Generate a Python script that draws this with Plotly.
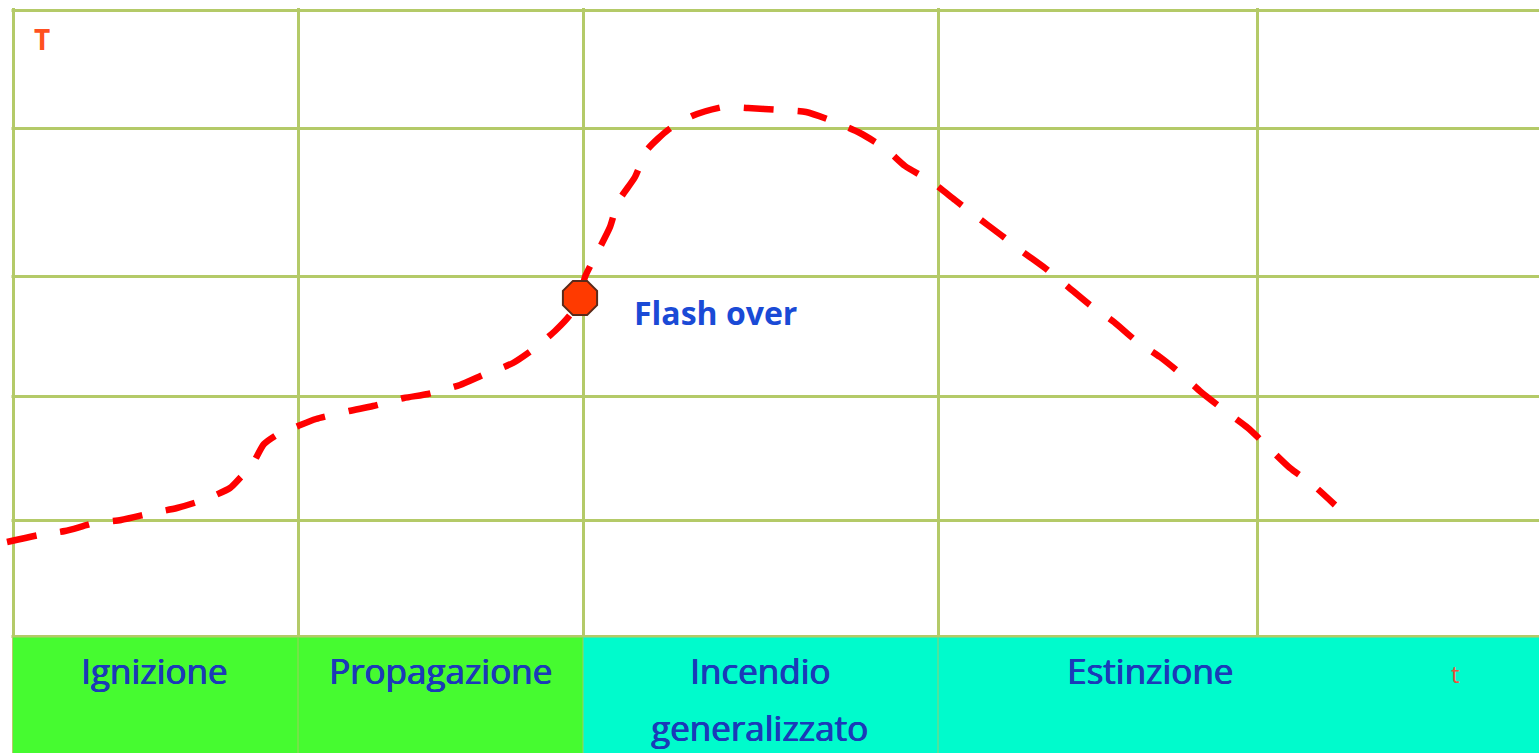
import plotly.graph_objects as go

# ---- data (arbitrary units: time -> right, temperature -> up) ----
time_vals = [7, 39, 65, 95, 121, 152, 177, 206, 230, 240,
             252, 264, 280, 293, 316, 349, 373, 404, 428, 460,
             483, 513, 535, 556, 570, 580, 585, 597, 610, 618,
             635, 647, 668, 692, 723, 748, 780, 806, 835, 860,
             886, 905, 932, 955, 977, 1001, 1023, 1045, 1067, 1090,
             1114, 1135, 1160, 1180, 1201, 1224, 1248, 1269, 1290, 1313,
             1335]
temp_vals = [211, 218, 222, 230, 233, 240, 245, 254, 265, 275,
             288, 309, 320, 325, 334, 342, 347, 355, 359, 368,
             378, 390, 405, 423, 438, 455, 476, 500, 526, 551,
             576, 603, 623, 637, 646, 645, 643, 641, 631, 620,
             604, 587, 571, 553, 536, 518, 501, 485, 467, 448,
             431, 413, 396, 380, 361, 343, 325, 305, 285, 268,
             248]

flash_time = [580]
flash_temp = [455]
flash_label = "Flash over"

grid_x = [13, 298, 583, 938, 1257]
grid_y = [117, 233, 357, 477, 625, 743]

phase_labels = ["Ignizione", "Propagazione", "Incendio", "generalizzato", "Estinzione"]
phase_label_x = [154, 440, 760, 759, 1150]
phase_label_y = [83, 83, 83, 26, 83]

phase_bounds = [13, 583, 1539]
phase_colors = ["#46fb30", "#00fbcc"]

X_RANGE = [0, 1539]
Y_RANGE = [0, 745]
BAND_TOP = 115.5

grid_color = "#b4ca68"
label_color = "#1b3ab8"

fig = go.Figure()

fig.add_trace(go.Scatter(
    x=time_vals, y=temp_vals, mode="lines",
    line=dict(color="#ff0000", width=6.5, dash="30px,24px",
              shape="spline", smoothing=0.6),
    hoverinfo="skip", showlegend=False,
))
fig.add_trace(go.Scatter(
    x=flash_time, y=flash_temp, mode="markers",
    marker=dict(symbol="octagon", size=37, color="#ff3a00",
                line=dict(color="#5a2a1a", width=2)),
    hoverinfo="skip", showlegend=False,
))

shapes = []
# white strip left of first vertical grid line
shapes.append(dict(type="rect", xref="x", yref="y", x0=X_RANGE[0], x1=11.5,
                   y0=Y_RANGE[0], y1=Y_RANGE[1], fillcolor="white",
                   line=dict(width=0), layer="between"))
# phase bands
for i, col in enumerate(phase_colors):
    shapes.append(dict(type="rect", xref="x", yref="y",
                       x0=phase_bounds[i], x1=phase_bounds[i + 1],
                       y0=Y_RANGE[0], y1=BAND_TOP, fillcolor=col,
                       line=dict(width=0), layer="between"))
# faint separators inside band
for gx in grid_x[1:4]:
    shapes.append(dict(type="line", xref="x", yref="y", x0=gx, x1=gx,
                       y0=Y_RANGE[0], y1=BAND_TOP,
                       line=dict(color="rgba(170,200,100,0.45)", width=2),
                       layer="between"))
fig.update_layout(shapes=shapes)

annotations = []
for txt, ax, ay in zip(phase_labels, phase_label_x, phase_label_y):
    annotations.append(dict(x=ax, y=ay, xref="x", yref="y", text=txt,
                            showarrow=False, xanchor="center", yanchor="middle",
                            font=dict(family="Open Sans", size=35, color=label_color,
                                      shadow="0.7px 0px 0px #1b3ab8, -0.3px 0px 0px #1b3ab8")))
annotations.append(dict(x=715, y=441, xref="x", yref="y", text=flash_label,
                        showarrow=False, xanchor="center", yanchor="middle",
                        font=dict(family="Open Sans", size=32, color="#1a4ad6",
                                  weight="bold")))
annotations.append(dict(x=42, y=714, xref="x", yref="y", text="T",
                        showarrow=False, xanchor="center", yanchor="middle",
                        font=dict(family="Open Sans", size=28, color="#ff5020",
                                  weight="bold")))
annotations.append(dict(x=1455, y=80, xref="x", yref="y", text="t",
                        showarrow=False, xanchor="center", yanchor="middle",
                        font=dict(family="Open Sans", size=24, color="#f0503c")))

fig.update_layout(
    annotations=annotations,
    width=1539, height=753,
    margin=dict(l=0, r=0, t=8, b=0),
    paper_bgcolor="white", plot_bgcolor="white",
    xaxis=dict(range=X_RANGE, tickvals=grid_x, showticklabels=False,
               showgrid=True, gridcolor=grid_color, gridwidth=3,
               zeroline=False, showline=False, ticks=""),
    yaxis=dict(range=Y_RANGE, tickvals=grid_y, showticklabels=False,
               showgrid=True, gridcolor=grid_color, gridwidth=3,
               zeroline=False, showline=False, ticks=""),
)

fig.write_html("out.html", config={"displayModeBar": False},
               post_script="document.body.style.margin='0';document.body.style.overflow='hidden';")
